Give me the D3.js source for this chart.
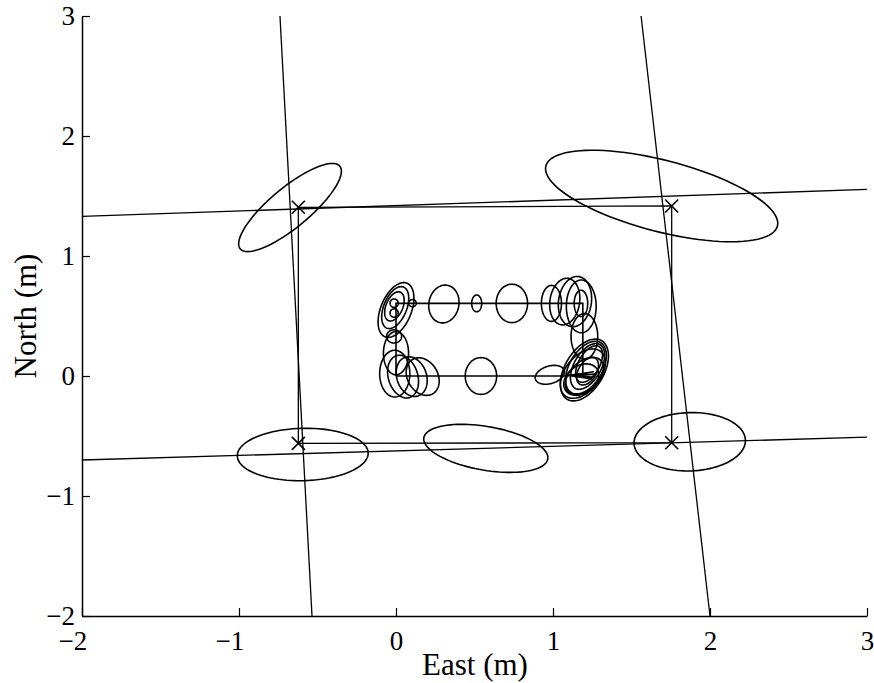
<!DOCTYPE html>
<html>
<head>
<meta charset="utf-8">
<script src="https://cdn.jsdelivr.net/npm/d3@7"></script>
<style>
  html, body { margin: 0; padding: 0; background: #fff; }
  svg { display: block; }
  text { font-family: "Liberation Serif", "Times New Roman", serif; fill: #000; }
</style>
</head>
<body>
<svg id="chart" width="874" height="683"></svg>
<script>
// ---- data ----
const xTicks = [-2, -1, 0, 1, 2, 3];
const yTicks = [-2, -1, 0, 1, 2, 3];

// Estimated landmark positions (crosses)
const landmarkX = [-0.622, 1.756, 1.756, -0.622];
const landmarkY = [1.406, 1.417, -0.556, -0.561];

// Wall lines, each given by two end points
const wallX1 = [-0.739, 1.561, -2, -2];
const wallY1 = [3, 3, 1.33, -0.70];
const wallX2 = [-0.535, 2.0, 3, 3];
const wallY2 = [-2, -2, 1.555, -0.51];

// Robot trajectory
const pathX = [0, 1.07, 1.26, 1.08, 1.27, 1.10, 1.26, 1.12, 1.25, 1.19, 1.19, 0, 0, 0];
const pathY = [0, 0, 0.035, 0.0, 0.015, 0.01, -0.01, 0.0, -0.025, 0.0, 0.605, 0.605, 0, 0];

// Uncertainty ellipses: centre, semi-axes (data units), rotation (degrees)
const ellCx = [
  -0.675, 1.692, -0.594, 0.572, 1.871,
  0.305, 0.514, 0.738, 0.99, 1.075, 1.14, 1.18, 1.178, 1.20,
  0.0, -0.005, -0.01, -0.012, -0.012, 0.105, -0.012, 0.0,
  -0.008, 0.045, 0.10, 0.17,
  0.541, 0.98,
  1.20, 1.21, 1.22, 1.23, 1.19, 1.20, 1.22, 1.18
];
const ellCy = [
  1.404, 1.50, -0.654, -0.603, -0.548,
  0.60, 0.605, 0.605, 0.605, 0.62, 0.62, 0.58, 0.605, 0.33,
  0.55, 0.57, 0.58, 0.607, 0.525, 0.607, 0.33, 0.19,
  0.02, -0.005, -0.005, -0.005,
  0.0, 0.01,
  0.05, 0.07, 0.08, 0.10, 0.02, 0.0, 0.04, -0.03
];
const ellRx = [
  0.47, 0.78, 0.417, 0.405, 0.355,
  0.096, 0.032, 0.10, 0.064, 0.095, 0.105, 0.095, 0.043, 0.085,
  0.10, 0.075, 0.055, 0.026, 0.026, 0.024, 0.048, 0.08,
  0.096, 0.095, 0.096, 0.10,
  0.10, 0.10,
  0.13, 0.11, 0.09, 0.07, 0.12, 0.10, 0.06, 0.10
];
const ellRy = [
  0.145, 0.29, 0.218, 0.18, 0.243,
  0.158, 0.07, 0.16, 0.15, 0.195, 0.21, 0.22, 0.11, 0.19,
  0.235, 0.18, 0.125, 0.035, 0.035, 0.03, 0.055, 0.18,
  0.195, 0.18, 0.167, 0.16,
  0.153, 0.07,
  0.27, 0.23, 0.20, 0.16, 0.22, 0.17, 0.12, 0.14
];
const ellAngle = [
  49, -20, 2, -14, 3,
  -5, 0, 0, 0, -5, -5, 0, 0, 0,
  -15, -15, -15, 0, 0, 0, 0, 0,
  0, 10, 10, 15,
  0, 30,
  -20, -20, -20, -20, -25, -30, -20, -30
];

// ---- layout ----
const FONT = "'Liberation Serif', 'Times New Roman', serif";
const svg = d3.select("#chart");
const x = d3.scaleLinear().domain([-2, 3]).range([82, 867]);
const y = d3.scaleLinear().domain([-2, 3]).range([616, 16]);

svg.append("defs").append("clipPath").attr("id", "plot")
  .append("rect")
  .attr("x", x(-2)).attr("y", y(3))
  .attr("width", x(3) - x(-2)).attr("height", y(-2) - y(3));

const plot = svg.append("g").attr("clip-path", "url(#plot)");

// walls
plot.selectAll("line.wall")
  .data(d3.range(wallX1.length))
  .join("line")
  .attr("class", "wall")
  .attr("x1", i => x(wallX1[i])).attr("y1", i => y(wallY1[i]))
  .attr("x2", i => x(wallX2[i])).attr("y2", i => y(wallY2[i]))
  .attr("stroke", "#000").attr("stroke-width", 1.3);

// landmark outline
const lmLine = d3.line().x(i => x(landmarkX[i])).y(i => y(landmarkY[i]));
plot.append("path")
  .attr("d", lmLine([0, 1, 2, 3, 0]))
  .attr("fill", "none").attr("stroke", "#000").attr("stroke-width", 1.3);

// trajectory
const trLine = d3.line().x(i => x(pathX[i])).y(i => y(pathY[i]));
plot.append("path")
  .attr("d", trLine(d3.range(pathX.length)))
  .attr("fill", "none").attr("stroke", "#000").attr("stroke-width", 1.6);

// ellipses
function ellipsePoints(i) {
  const a = ellAngle[i] * Math.PI / 180;
  const ca = Math.cos(a), sa = Math.sin(a);
  return d3.range(0, 96).map(k => {
    const t = k / 96 * 2 * Math.PI;
    const ex = ellRx[i] * Math.cos(t), ey = ellRy[i] * Math.sin(t);
    return [x(ellCx[i] + ex * ca - ey * sa), y(ellCy[i] + ex * sa + ey * ca)];
  });
}
const ellLine = d3.line().curve(d3.curveLinearClosed);
plot.selectAll("path.ell")
  .data(d3.range(ellCx.length))
  .join("path")
  .attr("class", "ell")
  .attr("d", i => ellLine(ellipsePoints(i)))
  .attr("fill", "none").attr("stroke", "#000").attr("stroke-width", 1.6);

// crosses
const cr = 6.5;
const cross = plot.selectAll("g.lm")
  .data(d3.range(landmarkX.length))
  .join("g")
  .attr("class", "lm")
  .attr("transform", i => `translate(${x(landmarkX[i])},${y(landmarkY[i])})`);
cross.append("path")
  .attr("d", `M${-cr},${-cr}L${cr},${cr}M${-cr},${cr}L${cr},${-cr}`)
  .attr("stroke", "#000").attr("stroke-width", 1.6);

// ---- axes ----
const fmt = d3.format("d");
const xAxis = d3.axisBottom(x).tickValues(xTicks).tickFormat(fmt)
  .tickSizeInner(-8).tickSizeOuter(0).tickPadding(15);
const gx = svg.append("g").attr("transform", `translate(0,${y(-2)})`).call(xAxis);
gx.selectAll("text")
  .attr("font-size", 27)
  .attr("dx", d => d < 0 ? "-0.36em" : 0);

const yAxis = d3.axisLeft(y).tickValues(yTicks).tickFormat(fmt)
  .tickSizeInner(-8).tickSizeOuter(0).tickPadding(7);
const gy = svg.append("g").attr("transform", `translate(${x(-2)},0)`).call(yAxis);
gy.selectAll("text").attr("font-size", 27);

[gx, gy].forEach(g => {
  g.attr("font-family", FONT);
  g.selectAll("text").attr("font-family", FONT).attr("fill", "#000");
  g.select(".domain").attr("stroke", "#000").attr("stroke-width", 1.5);
  g.selectAll(".tick line").attr("stroke", "#000").attr("stroke-width", 1.2);
});

svg.append("text")
  .attr("x", 475).attr("y", 675)
  .attr("text-anchor", "middle")
  .attr("font-family", FONT)
  .attr("font-size", 31)
  .text("East (m)");

svg.append("text")
  .attr("transform", "translate(36,316) rotate(-90)")
  .attr("text-anchor", "middle")
  .attr("font-family", FONT)
  .attr("font-size", 31)
  .text("North (m)");
</script>
</body>
</html>
